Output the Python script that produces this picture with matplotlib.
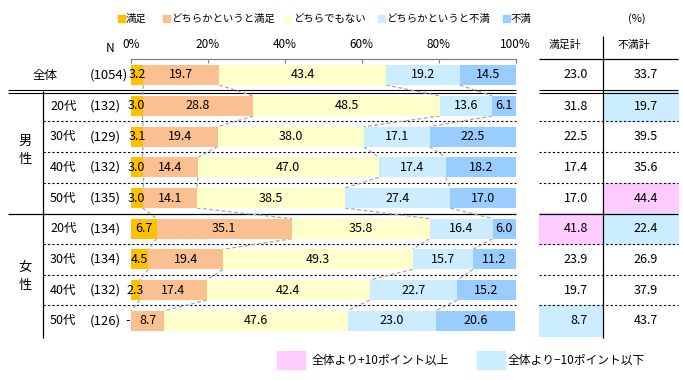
import matplotlib
matplotlib.use("Agg")
import matplotlib.pyplot as plt
from matplotlib.patches import Rectangle
import numpy as np

plt.rcParams['font.family'] = ['Noto Sans CJK JP', 'DejaVu Sans']

# データ
categories = ["満足", "どちらかというと満足", "どちらでもない", "どちらかというと不満", "不満"]
colors = ["#FFC000", "#FAC090", "#FFFFCC", "#CCECFF", "#99CCFF"]
groups = ["", "男性", "男性", "男性", "男性", "女性", "女性", "女性", "女性"]
ages = ["全体", "20代", "30代", "40代", "50代", "20代", "30代", "40代", "50代"]
n_labels = ["(1054)", "(132)", "(129)", "(132)", "(135)", "(134)", "(134)", "(132)", "(126)"]
manzoku = [3.2, 3.0, 3.1, 3.0, 3.0, 6.7, 4.5, 2.3, 0.0]
yaya_manzoku = [19.7, 28.8, 19.4, 14.4, 14.1, 35.1, 19.4, 17.4, 8.7]
dochira = [43.4, 48.5, 38.0, 47.0, 38.5, 35.8, 49.3, 42.4, 47.6]
yaya_fuman = [19.2, 13.6, 17.1, 17.4, 27.4, 16.4, 15.7, 22.7, 23.0]
fuman = [14.5, 6.1, 22.5, 18.2, 17.0, 6.0, 11.2, 15.2, 20.6]
manzoku_kei = [23.0, 31.8, 22.5, 17.4, 17.0, 41.8, 23.9, 19.7, 8.7]
fuman_kei = [33.7, 19.7, 39.5, 35.6, 44.4, 22.4, 26.9, 37.9, 43.7]

PINK = "#FFCCFF"
BLUE = "#CCECFF"

# レイアウト (ピクセル座標, 上が0)
row_step = 30.67
y_pos = np.array([75] + [106 + row_step * i for i in range(8)])
bar_h = 20

fig = plt.figure(figsize=(6.83, 3.80), dpi=100)
ax0 = fig.add_axes([0, 0, 1, 1])
ax0.set_xlim(0, 683)
ax0.set_ylim(380, 0)
ax0.axis("off")

ax = fig.add_axes([131 / 683, (380 - 338) / 380, 384.7 / 683, (338 - 59) / 380])
ax.set_xlim(0, 100)
ax.set_ylim(338, 59)
ax.patch.set_visible(False)

# 積み上げ棒
series = np.array([manzoku, yaya_manzoku, dochira, yaya_fuman, fuman])
left = np.zeros(len(ages))
for vals, col in zip(series, colors):
    ax.barh(y_pos, vals, left=left, height=bar_h, color=col, edgecolor="none", zorder=2)
    left = left + vals

# 数値ラベル
left = np.zeros(len(ages))
for vals in series:
    for y, l, v in zip(y_pos, left, vals):
        if v == 0:
            ax.text(l - 0.8, y, "-", ha="center", va="center", fontsize=9, zorder=5)
        else:
            ax.text(l + v / 2, y, f"{v:.1f}", ha="center", va="center", fontsize=9, zorder=5)
    left = left + vals

# 区切りの点線 (行と行をつなぐ)
cum = np.cumsum(series, axis=0)
for k in range(4):
    for i in range(len(ages) - 1):
        ax.plot([cum[k, i], cum[k, i + 1]],
                [y_pos[i] + bar_h / 2, y_pos[i + 1] - bar_h / 2],
                color="#A6A6A6", lw=0.9, ls=(0, (3, 2)), zorder=1, clip_on=False)

# 軸
ax.xaxis.tick_top()
ax.set_xticks([0, 20, 40, 60, 80, 100])
ax.set_xticklabels(["0%", "20%", "40%", "60%", "80%", "100%"])
ax.tick_params(axis="x", direction="in", length=3, color="#808080", labelsize=8.5, pad=6)
ax.set_yticks([])
for s in ["left", "right", "bottom"]:
    ax.spines[s].set_visible(False)
ax.spines["top"].set_color("#808080")
ax.spines["top"].set_linewidth(0.9)

# 凡例 (上)
leg_x = [118, 163, 285, 378, 503]
for x, c, lab in zip(leg_x, colors, categories):
    ax0.add_patch(Rectangle((x, 15), 7, 7, color=c))
    ax0.text(x + 8, 19, lab, ha="left", va="center", fontsize=7.5)
ax0.text(637, 19, "(%)", ha="center", va="center", fontsize=8)

# 見出し
ax0.text(110, 49, "N", ha="center", va="center", fontsize=8.5)
ax0.text(565, 45, "満足計", ha="center", va="center", fontsize=7.8)
ax0.text(634, 45, "不満計", ha="center", va="center", fontsize=7.8)

# 左側ラベル
for i, (a, n) in enumerate(zip(ages, n_labels)):
    if i == 0:
        ax0.text(45, y_pos[i], a, ha="center", va="center", fontsize=9)
    else:
        ax0.text(50, y_pos[i], a, ha="left", va="center", fontsize=9)
    ax0.text(90, y_pos[i], n, ha="left", va="center", fontsize=9.5)
for g, yc in [("男性", 150), ("女性", 276)]:
    ax0.text(25, yc - 9, g[0], ha="center", va="center", fontsize=9.5)
    ax0.text(25, yc + 9, g[1], ha="center", va="center", fontsize=9.5)

# 右側の表 (ハイライト)
col_x = [(539, 603), (603, 678)]
for i in range(1, len(ages)):
    top = y_pos[i] - row_step / 2
    for (x0, x1), v, base in zip(col_x, [manzoku_kei[i], fuman_kei[i]], [manzoku_kei[0], fuman_kei[0]]):
        d = v - base
        if d > 10:
            ax0.add_patch(Rectangle((x0, top), x1 - x0, row_step, color=PINK, zorder=0))
        elif d < -10:
            ax0.add_patch(Rectangle((x0, top), x1 - x0, row_step, color=BLUE, zorder=0))
for i in range(len(ages)):
    ax0.text(588, y_pos[i], f"{manzoku_kei[i]:.1f}", ha="right", va="center", fontsize=9)
    ax0.text(658, y_pos[i], f"{fuman_kei[i]:.1f}", ha="right", va="center", fontsize=9)

# 罫線
spans = [(8, 515.7), (539, 678)]
for x0, x1 in spans:
    ax0.hlines([89.7, 92.5], x0, x1, color="black", lw=0.8)
    ax0.hlines(214, x0, x1, color="black", lw=0.9)
dash_y = [y_pos[i] + row_step / 2 for i in [1, 2, 3, 5, 6, 7]]
ax0.hlines(dash_y, 43, 515.7, color="black", lw=0.8, ls=(0, (2, 2)))
ax0.hlines(dash_y, 539, 678, color="black", lw=0.8, ls=(0, (2, 2)))
ax0.hlines(59.3, 539, 678, color="black", lw=0.9)
ax0.vlines(43, 91, 338, color="black", lw=0.9)
ax0.vlines(603, 36, 338, color="black", lw=0.9)

# 凡例 (下)
ax0.add_patch(Rectangle((277, 351), 28, 18, color=PINK))
ax0.text(312, 360, "全体より+10ポイント以上", ha="left", va="center", fontsize=8.5)
ax0.add_patch(Rectangle((477, 351), 28, 18, color=BLUE))
ax0.text(508, 360, "全体より−10ポイント以下", ha="left", va="center", fontsize=8.5)

fig.savefig("out.png", dpi=100)
